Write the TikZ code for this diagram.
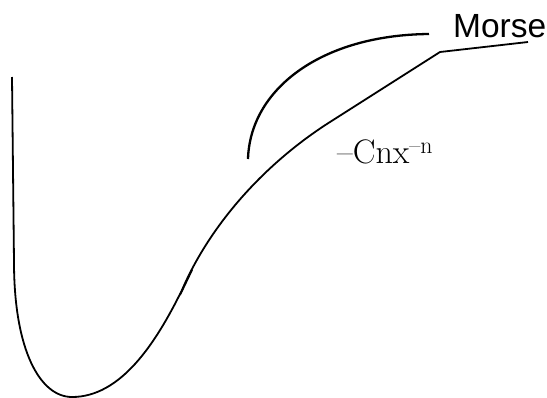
\documentclass[tikz,border=0pt]{standalone}
\usepackage{fontspec}
\newfontfamily\morsefont{Liberation Sans}
\usepackage{tikz}

\begin{document}
\begin{tikzpicture}[x=1pt, y=-1pt,
    potential/.style={line width=1.8pt, line join=round},
    morsearc/.style={line width=2.3pt, line cap=butt},
    every node/.style={inner sep=0pt, anchor=base west}]
    \useasboundingbox (0,0) rectangle (547,397);

    % Potential curve
    \draw[potential] (12,77) -- (14,262)
        .. controls (14,350) and (40,397) .. (72,397)
        .. controls (120,397) and (155,345) .. (182,290)
        .. controls (210,225) and (264,164) .. (330,122)
        -- (440,52) -- (528,42);
    \draw[potential] (180,295) -- (192,270);

    % Morse arc
    \draw[morsearc] (248,159) .. controls (250,90) and (320,35) .. (429,34);

    % Labels
    \node (morse) at (453,37) {\morsefont\fontsize{33.5}{40}\selectfont Morse};
    \node (tail) at (337,163) {\fontsize{34}{40}\selectfont \textendash Cnx\textsuperscript{\textendash n}};
\end{tikzpicture}
\end{document}
